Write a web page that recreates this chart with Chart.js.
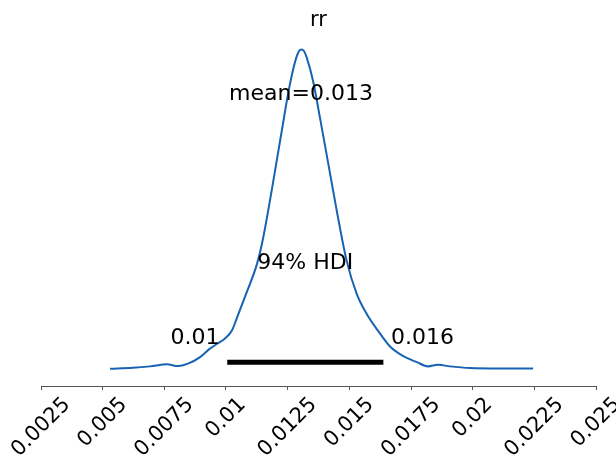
<!DOCTYPE html>
<html>
<head>
<meta charset="utf-8">
<script src="https://cdn.jsdelivr.net/npm/chart.js@4"></script>
<style>
  html, body { margin: 0; padding: 0; background: #fff; }
  #wrap { width: 616px; height: 457px; }
</style>
</head>
<body>
<div id="wrap"><canvas id="chart" width="616" height="457"></canvas></div>
<script>
// posterior of rr: kde
const rrValues = [0.00530, 0.00623, 0.00692, 0.00761, 0.00805, 0.00846, 0.00895, 0.00935, 0.00964, 0.00996,
  0.01024, 0.01045, 0.01085, 0.01126, 0.01151, 0.01185, 0.01226, 0.01259, 0.01287,
  0.01304, 0.01316, 0.01328, 0.01353, 0.01381, 0.01415, 0.01449, 0.01489, 0.01530,
  0.01570, 0.01624, 0.01665, 0.01717, 0.01774, 0.01819, 0.01859, 0.01908, 0.01989, 0.02111, 0.02245];
const rrDensity = [0.5, 1.2, 2.2, 3.7, 2.4, 4.2, 9.0, 15.2, 18.8, 22.7,
  28.5, 38.1, 57.1, 77.6, 96.8, 131.0, 174.9, 209.1, 229.8,
  234.7, 233.6, 228.4, 211.6, 184.5, 150.6, 116.4, 79.8, 55.4,
  40.8, 26.4, 16.8, 9.9, 5.3, 2.2, 3.4, 2.2, 1.0, 0.7, 0.7];

const hdi = [0.01005, 0.01638];
const hdiLabels = ['0.01', '0.016'];
const meanLabel = 'mean=0.013';
const hdiText = '94% HDI';
const xTicks = [0.0025, 0.005, 0.0075, 0.01, 0.0125, 0.015, 0.0175, 0.02, 0.0225, 0.025];
const xTickLabels = ['0.0025', '0.005', '0.0075', '0.01', '0.0125', '0.015', '0.0175', '0.02', '0.0225', '0.025'];

const FONT = '"DejaVu Sans", sans-serif';

// text placed in data coords, drawn after the datasets
const textPlugin = {
  id: 'posteriorText',
  afterDatasetsDraw(chart) {
    const ctx = chart.ctx;
    const x = chart.scales.x, y = chart.scales.y;
    ctx.save();
    ctx.fillStyle = '#000';
    ctx.font = '22px ' + FONT;
    ctx.textAlign = 'center';
    ctx.textBaseline = 'middle';
    ctx.fillText(meanLabel, x.getPixelForValue(0.01304), y.getPixelForValue(202));
    ctx.fillText(hdiText, x.getPixelForValue((hdi[0] + hdi[1]) / 2), y.getPixelForValue(78));
    ctx.fillText(hdiLabels[0], x.getPixelForValue(0.00874), y.getPixelForValue(22.5));
    ctx.fillText(hdiLabels[1], x.getPixelForValue(0.01797), y.getPixelForValue(22.5));
    ctx.restore();
  },
  afterDraw(chart) {
    // rotated tick labels, centred under each tick like matplotlib
    const ctx = chart.ctx;
    const x = chart.scales.x;
    const top = chart.chartArea.bottom + 4 + 4;
    ctx.save();
    ctx.fillStyle = '#000';
    ctx.font = '21px ' + FONT;
    ctx.textAlign = 'center';
    ctx.textBaseline = 'middle';
    xTicks.forEach((v, i) => {
      const w = ctx.measureText(xTickLabels[i]).width;
      const h = 21;
      const half = (w + h) * Math.SQRT1_2 / 2;
      ctx.save();
      ctx.translate(x.getPixelForValue(v), top + half);
      ctx.rotate(-Math.PI / 4);
      ctx.fillText(xTickLabels[i], 0, 0);
      ctx.restore();
    });
    ctx.restore();
  }
};

new Chart(document.getElementById('chart'), {
  type: 'line',
  data: {
    datasets: [
      {
        label: 'rr',
        data: rrValues.map((v, i) => ({ x: v, y: rrDensity[i] })),
        borderColor: '#1663b4',
        borderWidth: 2,
        pointRadius: 0,
        cubicInterpolationMode: 'monotone',
        fill: false
      },
      {
        label: 'hdi',
        data: [{ x: hdi[0], y: 5.3 }, { x: hdi[1], y: 5.3 }],
        borderColor: '#000',
        borderWidth: 5,
        borderCapStyle: 'butt',
        pointRadius: 0,
        fill: false
      }
    ]
  },
  options: {
    responsive: false,
    animation: false,
    layout: { padding: { left: 41, right: 20, top: 0, bottom: 67 } },
    plugins: {
      legend: { display: false },
      tooltip: { enabled: false },
      title: {
        display: true,
        text: 'rr',
        color: '#000',
        font: { family: FONT, size: 21, weight: 'normal' },
        padding: { top: 8, bottom: 8 }
      }
    },
    scales: {
      x: {
        type: 'linear',
        min: 0.0025,
        max: 0.025,
        afterBuildTicks: axis => { axis.ticks = xTicks.map(v => ({ value: v })); },
        ticks: { display: false },
        grid: { drawOnChartArea: false, drawTicks: true, tickLength: 4, color: '#555', lineWidth: 1 },
        border: { display: true, color: '#555', width: 1 }
      },
      y: {
        display: false,
        min: -12.2,
        max: 240.8
      }
    }
  },
  plugins: [textPlugin]
});
</script>
</body>
</html>
